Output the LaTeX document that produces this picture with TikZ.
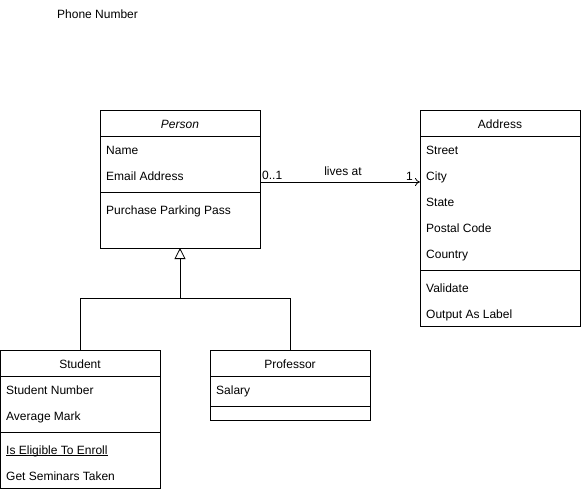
\documentclass[tikz,border=0pt]{standalone}
\usepackage{fontspec}
\setmainfont{Liberation Sans}
\usetikzlibrary{arrows.meta}
\begin{document}
\begin{tikzpicture}[x=1pt,y=-1pt,
  cls/.style={draw=black,line width=0.8pt,inner sep=0pt,outer sep=0pt,anchor=north west},
  attr/.style={anchor=base west,inner sep=0pt,font=\fontsize{12}{14}\selectfont,yshift=-4.3pt},
  ttl/.style={anchor=base,inner sep=0pt,font=\fontsize{12}{14}\selectfont,yshift=-4.3pt},
  sep/.style={line width=0.8pt},
  lbl/.style={inner sep=0pt,font=\fontsize{12}{14}\selectfont,yshift=-4.3pt}]
\useasboundingbox[fill=white] (0,0) rectangle (581,492);
% free text
\node[attr] (phone) at (57,14) {Phone Number};
% Person
\node[cls,minimum width=160pt,minimum height=138pt] (person) at (100,110) {};
\draw[sep] (100,136) -- (260,136);
\draw[sep] (100,192) -- (260,192);
\node[ttl] (pt) at (180,124) {\itshape Person};
\node[attr] (p1) at (106,150) {Name};
\node[attr] (p2) at (106,176) {Email Address};
\node[attr] (p3) at (106,210) {Purchase Parking Pass};
% Address
\node[cls,minimum width=160pt,minimum height=216pt] (address) at (420,110) {};
\draw[sep] (420,136) -- (580,136);
\draw[sep] (420,270) -- (580,270);
\node[ttl] (at) at (500,124) {Address};
\node[attr] (a1) at (426,150) {Street};
\node[attr] (a2) at (426,176) {City};
\node[attr] (a3) at (426,202) {State};
\node[attr] (a4) at (426,228) {Postal Code};
\node[attr] (a5) at (426,254) {Country};
\node[attr] (a6) at (426,288) {Validate};
\node[attr] (a7) at (426,314) {Output As Label};
% Student
\node[cls,minimum width=160pt,minimum height=138pt] (student) at (0,350) {};
\draw[sep] (0,376) -- (160,376);
\draw[sep] (0,432) -- (160,432);
\node[ttl] (st) at (80,364) {Student};
\node[attr] (s1) at (6,390) {Student Number};
\node[attr] (s2) at (6,416) {Average Mark};
\node[attr] (s3) at (6,450) {Is Eligible To Enroll};
\draw[line width=0.7pt] ([yshift=-1.5pt]s3.base west) -- ([yshift=-1.5pt]s3.base east);
\node[attr] (s4) at (6,476) {Get Seminars Taken};
% Professor
\node[cls,minimum width=160pt,minimum height=70pt] (prof) at (210,350) {};
\draw[sep] (210,376) -- (370,376);
\draw[sep] (210,406) -- (370,406);
\node[ttl] (prt) at (290,364) {Professor};
\node[attr] (pr1) at (216,390) {Salary};
% association
\coordinate (assocA) at (260,182);
\coordinate (assocB) at (420,182);
\draw[line width=0.8pt,-{To[length=5pt,width=8pt]}] (assocA) -- (assocB);
\node[lbl,anchor=base west] (m1) at (262,175) {0..1};
\node[lbl,anchor=base east] (m2) at (413,176) {1};
\node[lbl,anchor=base] (la) at (343,171) {lives at};
% generalization
\coordinate (tip) at (180,248);
\coordinate (junc) at (180,298);
\coordinate (sj) at (80,298);
\coordinate (pj) at (290,298);
\draw[line width=0.8pt] (student.north) -- (sj) -- (pj) -- (prof.north);
\draw[line width=0.8pt,-{Triangle[open,length=11pt,width=11pt]}] (junc) -- (tip);
\end{tikzpicture}
\end{document}
